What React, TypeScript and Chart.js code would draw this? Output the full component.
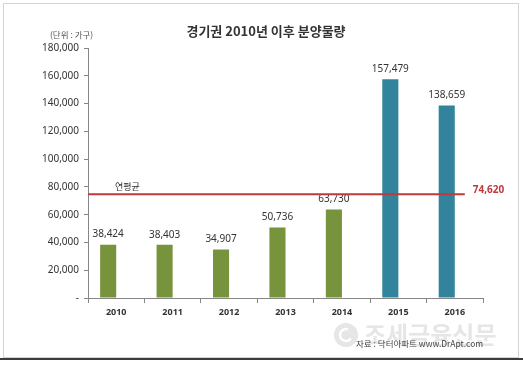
import React, { useEffect, useRef } from 'react';
import { Chart, registerables } from 'chart.js';

Chart.register(...registerables);

const categories = ['2010', '2011', '2012', '2013', '2014', '2015', '2016'];
const supplyValues = [38424, 38403, 34907, 50736, 63730, 157479, 138659];
const placeholderValues = [null, null, null, null, null, null, null];
const averageValue = 74620;
const barColors = ['#77933C', '#77933C', '#77933C', '#77933C', '#77933C', '#31849B', '#31849B'];
const titleText = '경기권 2010년 이후 분양물량';
const unitText = '(단위 : 가구)';
const averageLabel = '연평균';
const sourceText = '자료 : 닥터아파트 www.DrApt.com';
const watermarkText = '조세금융신문';

const KR = '"Noto Sans CJK KR", "Noto Sans", sans-serif';
const NUM = '"Noto Sans", "DejaVu Sans", sans-serif';

const fmt = (v: number) => v.toLocaleString('en-US');

export default function App() {
  const ref = useRef<HTMLCanvasElement | null>(null);

  useEffect(() => {
    const canvas = ref.current;
    if (!canvas) return;

    const decor = {
      id: 'decor',
      beforeDraw(chart: any) {
        const ctx = chart.ctx;
        ctx.save();
        ctx.fillStyle = '#ffffff';
        ctx.fillRect(0, 0, chart.width, chart.height);
        ctx.strokeStyle = '#d4d4d4';
        ctx.lineWidth = 1;
        ctx.strokeRect(3.5, 3.5, 515, 354);
        ctx.fillStyle = '#3c3c3c';
        ctx.fillRect(0, 358, chart.width, 2);
        // watermark
        ctx.fillStyle = '#e6e6e6';
        ctx.beginPath();
        ctx.arc(346, 335, 12, 0, Math.PI * 2);
        ctx.fill();
        ctx.strokeStyle = '#ffffff';
        ctx.lineWidth = 2.5;
        ctx.beginPath();
        ctx.arc(346, 335, 6, Math.PI * 0.2, Math.PI * 1.6);
        ctx.stroke();
        ctx.font = `bold 24px ${KR}`;
        ctx.textAlign = 'left';
        ctx.textBaseline = 'middle';
        ctx.fillStyle = '#e6e6e6';
        ctx.fillText(watermarkText, 364, 335);
        ctx.restore();
      },
      afterDatasetsDraw(chart: any) {
        const ctx = chart.ctx;
        const xs = chart.scales.x;
        const ys = chart.scales.y;
        const area = chart.chartArea;
        const meta = chart.getDatasetMeta(0);
        ctx.save();
        // value labels
        ctx.font = `10px ${NUM}`;
        ctx.fillStyle = '#333333';
        ctx.textAlign = 'center';
        ctx.textBaseline = 'bottom';
        meta.data.forEach((bar: any, i: number) => {
          ctx.fillText(fmt(supplyValues[i]), bar.x, bar.y - 5);
        });
        // average line
        const yAvg = ys.getPixelForValue(averageValue);
        const xEnd = xs.getPixelForValue(categories.length - 1) + 10;
        ctx.strokeStyle = '#C0393B';
        ctx.lineWidth = 2;
        ctx.beginPath();
        ctx.moveTo(area.left, yAvg);
        ctx.lineTo(xEnd, yAvg);
        ctx.stroke();
        ctx.font = `bold 10px ${NUM}`;
        ctx.fillStyle = '#C0393B';
        ctx.textAlign = 'left';
        ctx.textBaseline = 'middle';
        ctx.fillText(fmt(averageValue), xEnd + 8, yAvg - 4);
        ctx.font = `9px ${KR}`;
        ctx.fillStyle = '#333333';
        ctx.fillText(averageLabel, area.left + 27, yAvg - 8);
        // title & notes
        ctx.font = `bold 13px ${KR}`;
        ctx.fillStyle = '#333333';
        ctx.textAlign = 'center';
        ctx.fillText(titleText, 266, 31);
        ctx.font = `8.5px ${KR}`;
        ctx.fillStyle = '#555555';
        ctx.textAlign = 'left';
        ctx.fillText(unitText, 50, 35);
        ctx.font = `8.5px ${KR}`;
        ctx.fillStyle = '#444444';
        ctx.fillText(sourceText, 356, 344);
        ctx.restore();
      },
    };

    const chart = new Chart(canvas, {
      type: 'bar',
      data: {
        labels: categories,
        datasets: [
          {
            label: '분양물량',
            data: supplyValues,
            backgroundColor: barColors,
            borderWidth: 0,
            barPercentage: 1,
            categoryPercentage: 0.57,
          },
          {
            label: '',
            data: placeholderValues as any,
            backgroundColor: 'rgba(0,0,0,0)',
            barPercentage: 1,
            categoryPercentage: 0.57,
          },
        ],
      },
      options: {
        responsive: false,
        animation: false,
        devicePixelRatio: 1,
        layout: { padding: { left: 0, right: 40, top: 48, bottom: 0 } },
        plugins: {
          legend: { display: false },
          tooltip: { enabled: false },
          title: { display: false },
        },
        scales: {
          x: {
            afterFit: (s: any) => {
              s.height = 67;
            },
            grid: {
              offset: true,
              drawOnChartArea: false,
              drawTicks: true,
              tickLength: 5,
              color: '#868686',
            },
            border: { display: true, color: '#868686', width: 1 },
            ticks: {
              color: '#333333',
              padding: 4,
              font: { family: NUM, size: 9, weight: 'bold' },
            },
          },
          y: {
            min: 0,
            max: 180000,
            afterFit: (s: any) => {
              s.width = 88;
            },
            grid: {
              drawOnChartArea: false,
              drawTicks: true,
              tickLength: 4,
              color: '#868686',
            },
            border: { display: true, color: '#868686', width: 1 },
            ticks: {
              stepSize: 20000,
              color: '#333333',
              padding: 5,
              font: { family: NUM, size: 10 },
              callback: (v: any) => (Number(v) === 0 ? '-' : fmt(Number(v))),
            },
          },
        },
      },
      plugins: [decor],
    });

    return () => chart.destroy();
  }, []);

  return (
    <div style={{ position: 'fixed', left: 0, top: 0, width: 523, height: 365, background: '#fff' }}>
      <canvas ref={ref} width={523} height={365} style={{ display: 'block' }} />
    </div>
  );
}
